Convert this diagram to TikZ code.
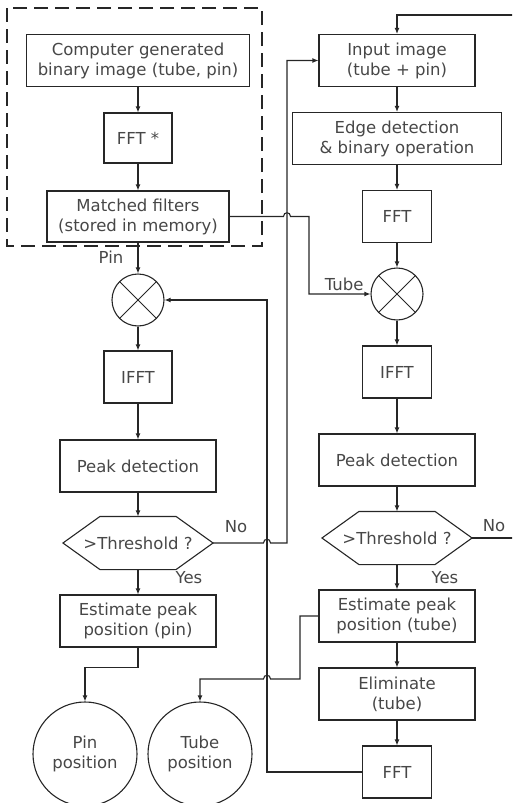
\documentclass[tikz,border=0pt]{standalone}
\usepackage{fontspec}
\setmainfont{DejaVu Sans}
\usetikzlibrary{arrows.meta,calc}
\begin{document}
\begin{tikzpicture}[x=1pt,y=-1pt, line width=1.1pt, color=black!85,
  txt/.style={font=\fontsize{16.5}{20}\selectfont, text=black!72},
  box/.style={draw, line width=1.1pt, minimum width=#1, minimum height=52pt, inner sep=0pt, align=center, txt},
  box/.default=156,
  hexn/.style={minimum width=149pt, minimum height=52pt, inner sep=0pt, txt},
  mult/.style={circle, draw, line width=1.1pt, minimum size=52pt, inner sep=0pt,
    path picture={\draw[line width=1pt] (path picture bounding box.north east) -- (path picture bounding box.south west)
      (path picture bounding box.north west) -- (path picture bounding box.south east);}},
  circ/.style={circle, draw, line width=1.1pt, minimum size=104pt, inner sep=0pt, align=center, txt},
  lbl/.style={inner sep=0pt, txt},
  arr/.style={-{Latex[length=6pt,width=5pt]}, line width=1.1pt},
  ln/.style={line width=1.1pt}
]
\path[use as bounding box] (0,0) rectangle (512,803);
\clip (0,0) rectangle (512,803);

% dashed frame
\draw[line width=1.8pt, dash pattern=on 14pt off 7pt] (7,8) rectangle (262,246);

% left column
\node[box=223] (cg) at (138,60.5) {Computer generated\\binary image (tube, pin)};
\node[box=68, minimum height=50pt] (fft1) at (138,138) {FFT *};
\node[box=182, minimum height=51pt] (mf) at (138,216.5) {Matched filters\\(stored in memory)};
\node[mult] (c1) at (138,300) {};
\node[box=68] (ifft1) at (138,377) {IFFT};
\node[box=156] (pk1) at (138,466) {Peak detection};
\node[hexn] (th1) at (138,543) {>Threshold ?};
\node[box=156] (est1) at (138,621) {Estimate peak\\position (pin)};
\node[circ] (pinpos) at (85,754) {Pin\\position};
\node[circ] (tubepos) at (200,754) {Tube\\position};

% right column
\node[box=156] (inp) at (397,60.5) {Input image\\(tube + pin)};
\node[box=209] (edge) at (397,138.5) {Edge detection\\\& binary operation};
\node[box=69] (fft2) at (397,216.5) {FFT};
\node[mult] (c2) at (397,294) {};
\node[box=69] (ifft2) at (397,372) {IFFT};
\node[box=156] (pk2) at (397,460) {Peak detection};
\node[hexn] (th2) at (397,538) {>Threshold ?};
\node[box=156] (est2) at (397,616) {Estimate peak\\position (tube)};
\node[box=156] (elim) at (397,694) {Eliminate\\(tube)};
\node[box=69] (fft3) at (397,772) {FFT};

% hexagon outlines
\foreach \h in {th1,th2}{
  \draw[ln] (\h.west) -- ($(\h.north west)+(37,0)$) -- ($(\h.north east)+(-37,0)$) -- (\h.east)
    -- ($(\h.south east)+(-37,0)$) -- ($(\h.south west)+(37,0)$) -- cycle;
}

% labels
\node[lbl] (lpin) at (111,257) {Pin};
\node[lbl, anchor=south east] (ltube) at (364,291) {Tube};
\node[lbl] (lno1) at (236,527) {No};
\node[lbl] (lyes1) at (189,578) {Yes};
\node[lbl] (lno2) at (494,526) {No};
\node[lbl] (lyes2) at (445,578) {Yes};

% left chain
\draw[arr] (cg) -- (fft1);
\draw[arr] (fft1) -- (mf);
\draw[arr] (mf) -- (c1);
\draw[arr] (c1) -- (ifft1);
\draw[arr] (ifft1) -- (pk1);
\draw[arr] (pk1) -- (th1);
\draw[arr] (th1) -- (est1);
\draw[arr] (est1.south) -- ++(0,20) -| (pinpos.north);

% right chain
\draw[arr] (inp) -- (edge);
\draw[arr] (edge) -- (fft2);
\draw[arr] (fft2) -- (c2);
\draw[arr] (c2) -- (ifft2);
\draw[arr] (ifft2) -- (pk2);
\draw[arr] (pk2) -- (th2);
\draw[arr] (th2) -- (est2);
\draw[arr] (est2) -- (elim);
\draw[arr] (elim) -- (fft3);

% matched filters -> tube multiplier (hop over x=287)
\draw[arr] (mf.east) -- (283.5,216.5) .. controls (283.5,211.5) and (290.5,211.5) .. (290.5,216.5)
  -- (309,216.5) |- (c2.west);

% left "No" -> input image (hop over x=267)
\draw[arr] (th1.east) -- (263.5,543) .. controls (263.5,538) and (270.5,538) .. (270.5,543)
  -- (287,543) |- (inp.west);

% right "No" -> loops back to input image top
\draw[arr] (th2.east) -- (530,538) -- (530,15) -| (inp.north);

% feedback FFT -> pin multiplier
\draw[arr] (fft3.west) -- (267,772) -- (267,300) -- (c1.east);

% estimate tube -> tube position (hop over x=267)
\draw[arr] (est2.west) -- (300,616) -- (300,679) -- (270.5,679)
  .. controls (270.5,674) and (263.5,674) .. (263.5,679) -| (tubepos.north);
\end{tikzpicture}
\end{document}
